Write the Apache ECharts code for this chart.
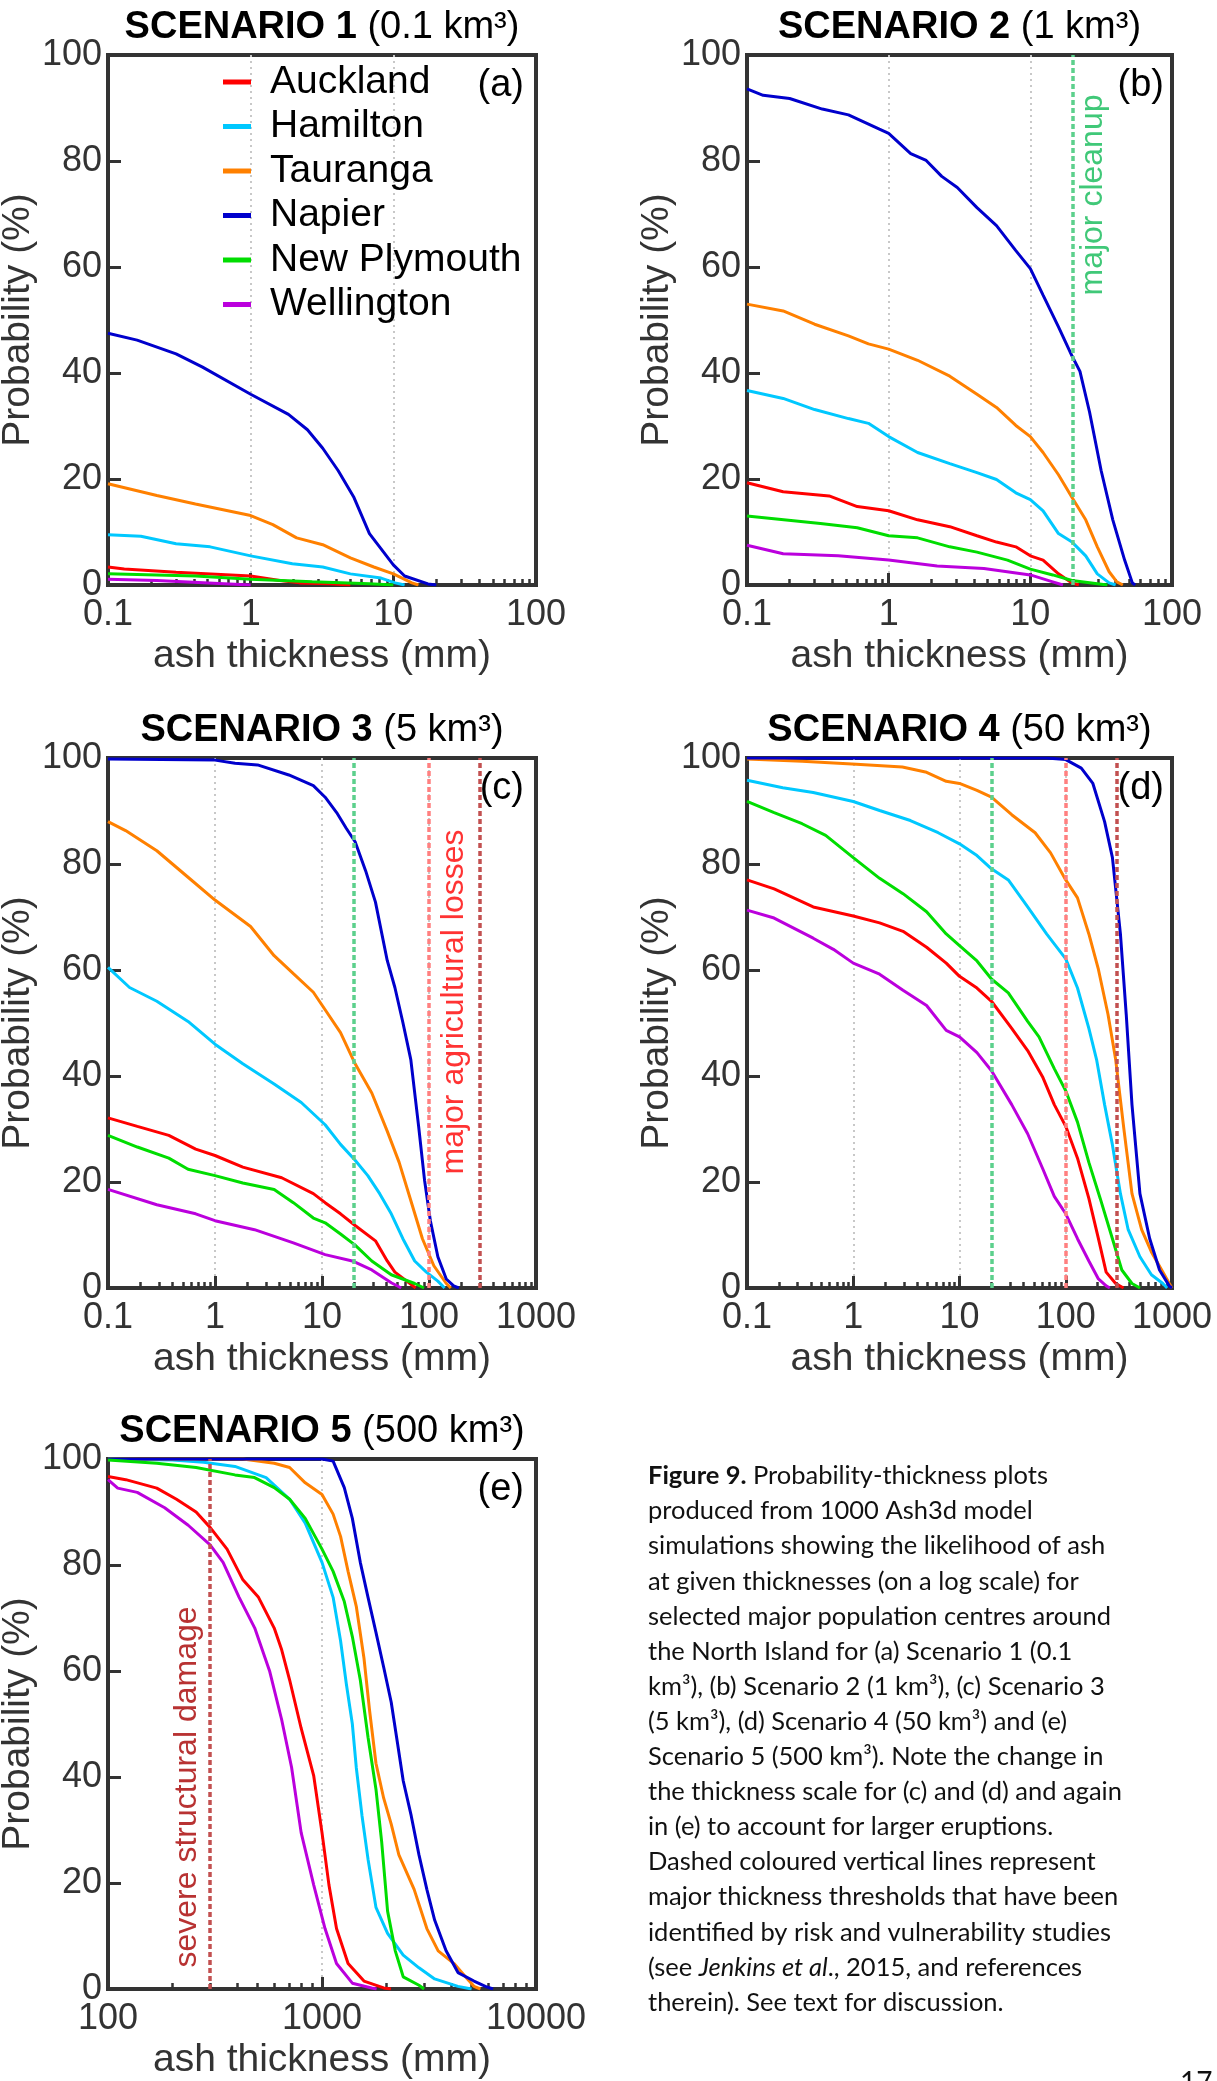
<!DOCTYPE html>
<html><head><meta charset="utf-8">
<script src="https://cdn.jsdelivr.net/npm/echarts@6/dist/echarts.min.js"></script>
<style>html,body{margin:0;padding:0;background:#fff}#c{width:1217px;height:2081px}</style>
</head><body><div id="c"></div>
<script>
// ---------- DATA (x = ash thickness mm, y = probability %) ----------
// Scenario 1 (0.1 km3)
const S1_AUCKLAND = [[0.1,3.4],[0.13,3.0],[0.3,2.4],[1,1.7],[1.6,0.85],[2.2,0.4],[3.6,0.25],[5,0]];
const S1_HAMILTON = [[0.1,9.5],[0.17,9.2],[0.3,7.8],[0.52,7.2],[1,5.5],[1.96,4.0],[3.2,3.4],[5,2.1],[8.2,1.3],[10.3,0.4],[12,0]];
const S1_TAURANGA = [[0.1,19.1],[0.22,16.9],[0.41,15.3],[1,13.1],[1.43,11.4],[2.1,8.9],[3.2,7.6],[5,5.1],[7.3,3.4],[10,2.1],[13.5,0.4],[15,0]];
const S1_NAPIER = [[0.1,47.5],[0.16,46.2],[0.3,43.6],[0.46,41.1],[1,36.0],[1.84,32.2],[2.5,29.3],[3.2,25.8],[4.1,21.6],[5.3,16.5],[6.8,9.7],[10,3.8],[12,1.7],[17.5,0.2],[20,0]];
const S1_NEWPLYMOUTH = [[0.1,2.1],[0.41,1.7],[1,1.1],[2.7,0.6],[6.8,0.25],[10,0]];
const S1_WELLINGTON = [[0.1,1.1],[0.22,0.85],[0.6,0.3],[1,0]];
// Scenario 2 (1 km3)
const S2_AUCKLAND = [[0.1,19.3],[0.18,17.6],[0.38,16.8],[0.6,14.8],[1,14.0],[1.6,12.3],[2.7,11.0],[4.2,9.3],[5.77,8.1],[7.9,7.2],[10,5.5],[12.3,4.7],[15.8,2.1],[19.7,0.4],[22,0]];
const S2_HAMILTON = [[0.1,36.7],[0.18,35.2],[0.3,33.1],[0.52,31.4],[0.72,30.5],[1,28.0],[1.6,25.0],[2.7,22.9],[4.2,21.2],[5.77,19.9],[7.9,17.4],[10,16.1],[12.3,14.0],[15.8,9.7],[19.7,8.1],[24.6,5.5],[29.7,2.1],[36,0.4],[40,0]];
const S2_TAURANGA = [[0.1,53.0],[0.18,51.7],[0.3,49.2],[0.52,47.0],[0.72,45.5],[1,44.5],[1.6,42.4],[2.7,39.4],[4.2,36.0],[5.77,33.5],[7.9,30.1],[10,28.0],[12.3,25.0],[15.8,20.8],[19.7,16.5],[24.6,12.3],[29.7,7.2],[36,2.5],[40.8,0.6],[45,0]];
const S2_NAPIER = [[0.1,93.6],[0.13,92.4],[0.2,91.8],[0.34,89.8],[0.52,88.7],[0.86,86.0],[1,85.2],[1.43,81.4],[1.84,80.1],[2.37,77.1],[3.05,75.0],[4.2,71.2],[5.77,67.8],[7.9,63.1],[10,59.7],[12.3,54.7],[15.8,48.7],[19.7,43.2],[22.4,40.3],[26.2,32.6],[31.6,21.6],[38.2,12.3],[46.3,4.7],[52.5,0.4],[55,0]];
const S2_NEWPLYMOUTH = [[0.1,13.0],[0.33,11.6],[0.6,10.8],[1,9.3],[1.6,8.9],[2.7,7.2],[4.2,6.2],[6.9,4.7],[10,3.0],[14.4,1.9],[19.7,0.85],[29.7,0.25],[35,0]];
const S2_WELLINGTON = [[0.1,7.5],[0.18,5.9],[0.44,5.5],[1,4.7],[2.2,3.6],[4.7,3.1],[10,1.9],[14.4,0.6],[17,0]];
// Scenario 3 (5 km3)
const S3_AUCKLAND = [[0.1,32.1],[0.188,30.5],[0.37,28.8],[0.66,26.2],[1,25.0],[1.82,22.8],[4.2,20.8],[8.3,17.8],[10.7,16.1],[14.9,14.0],[20.4,11.8],[31.6,8.9],[40.7,5.1],[48,3.0],[62,1.3],[75,0]];
const S3_HAMILTON = [[0.1,60.5],[0.159,56.7],[0.286,54.1],[0.56,50.3],[1,46.0],[1.82,42.3],[3.57,38.5],[6.4,35.0],[10.7,30.8],[14.9,27.1],[20.4,24.1],[26.8,21.2],[34.6,17.8],[44.4,14.0],[57,9.3],[73.5,5.1],[94.5,3.0],[121,1.3],[140,0]];
const S3_TAURANGA = [[0.1,88.0],[0.146,86.3],[0.286,82.5],[0.56,77.5],[1,73.2],[2.15,68.2],[3.57,62.7],[5.4,59.3],[8.3,55.8],[10.7,52.5],[14.9,48.2],[20.4,42.3],[29.2,36.8],[40.7,29.6],[52.6,23.7],[67.6,16.5],[86.8,9.3],[111,4.2],[145,0.85],[160,0]];
const S3_NAPIER = [[0.1,99.8],[1,99.6],[1.54,99.0],[2.5,98.7],[4.9,96.8],[8.3,94.8],[10.7,92.6],[13.7,89.7],[16.9,86.7],[20.4,84.2],[25.6,78.7],[31.6,72.8],[40.7,61.8],[48,56.7],[57,50.1],[67.6,43.1],[80,30.5],[90.9,20.3],[103,12.7],[121,5.9],[145,1.7],[170,0.4],[190,0]];
const S3_NEWPLYMOUTH = [[0.1,28.8],[0.188,26.6],[0.37,24.5],[0.56,22.4],[1,21.2],[1.82,19.8],[3.57,18.6],[5.4,16.1],[8.3,13.2],[10.7,12.3],[14.9,10.2],[20.4,8.1],[29.2,5.1],[44.4,2.5],[73.5,0.85],[90,0]];
const S3_WELLINGTON = [[0.1,18.6],[0.286,15.7],[0.66,14.0],[1,12.7],[2.34,11.0],[5.4,8.5],[10.7,6.3],[19.2,5.1],[29.2,3.4],[44.4,1.0],[55,0]];
// Scenario 4 (50 km3)
const S4_AUCKLAND = [[0.1,77.0],[0.18,75.3],[0.42,71.9],[1,70.2],[1.77,68.9],[2.94,67.3],[4.9,64.3],[7.5,61.3],[10,58.8],[14.6,56.6],[20,54.1],[31,49.0],[43.8,44.8],[61,39.7],[78,34.6],[100,30.5],[129,24.5],[165,16.9],[203,9.3],[240,3.0],[295,0.85],[350,0]];
const S4_HAMILTON = [[0.1,95.8],[0.217,94.4],[0.42,93.5],[1,91.8],[1.77,90.1],[3.45,88.2],[6.3,85.9],[10,83.8],[14.6,81.6],[20,79.1],[28.8,77.0],[43.8,71.9],[66,66.8],[100,62.1],[129,56.6],[165,49.0],[195,43.1],[232,34.6],[275,27.0],[327,17.8],[387,11.0],[499,5.9],[640,2.5],[820,0.85],[900,0]];
const S4_TAURANGA = [[0.1,99.8],[0.33,99.4],[1.07,98.8],[2.9,98.3],[4.9,97.3],[7.5,95.6],[10,95.2],[14.6,93.9],[20,92.6],[31,89.3],[51.5,85.9],[72,82.1],[100,77.0],[129,73.6],[165,66.8],[203,60.1],[250,51.6],[295,43.1],[350,30.5],[420,17.8],[518,11.0],[640,6.8],[820,3.0],[943,0.85],[1000,0]];
const S4_NAPIER = [[0.1,100],[66,100],[100,99.7],[140,98.1],[180,95.2],[232,88.0],[275,81.2],[327,66.8],[371,51.6],[420,34.6],[499,17.8],[617,9.3],[763,3.4],[943,0.4],[1000,0]];
const S4_NEWPLYMOUTH = [[0.1,91.8],[0.18,89.7],[0.33,87.6],[0.55,85.4],[1,81.2],[1.77,77.3],[2.94,74.4],[4.9,71.0],[7.5,66.8],[10,64.6],[14.6,61.7],[20,58.3],[28.8,55.7],[43.8,50.3],[56,47.4],[78,41.4],[100,37.2],[129,31.3],[165,23.7],[211,16.9],[275,9.3],[337,3.4],[420,0.85],[500,0]];
const S4_WELLINGTON = [[0.1,71.3],[0.18,69.8],[0.42,66.0],[0.65,63.9],[1,61.3],[1.77,59.2],[2.94,56.2],[4.9,53.3],[7.5,48.6],[10,47.4],[14.6,44.4],[20,41.0],[31,34.6],[43.8,29.1],[61,22.4],[78,17.3],[100,14.0],[129,9.3],[165,5.1],[203,1.7],[240,0.4],[260,0]];
// Scenario 5 (500 km3)
const S5_AUCKLAND = [[100,96.7],[121,96.1],[169,94.5],[209,92.4],[258,90.0],[300,87.1],[360,83.0],[427,77.2],[505,73.9],[598,68.1],[648,64.0],[706,58.3],[799,49.2],[915,40.2],[1000,29.5],[1078,19.6],[1169,11.4],[1324,4.8],[1571,1.5],[1942,0.2],[2100,0]];
const S5_HAMILTON = [[100,100],[200,99.8],[280,99.4],[392,98.6],[548,96.5],[706,92.4],[835,87.9],[1000,80.5],[1127,73.9],[1221,65.7],[1300,57.5],[1386,50.0],[1446,41.8],[1538,32.7],[1641,24.5],[1787,15.4],[2025,10.5],[2396,6.4],[2839,4.0],[3360,1.9],[4320,0.5],[5000,0]];
const S5_TAURANGA = [[100,100],[427,100],[598,99.2],[706,98.4],[835,95.5],[1000,93.3],[1127,89.6],[1221,85.4],[1324,78.8],[1446,72.2],[1571,62.4],[1669,52.5],[1787,42.6],[1942,36.0],[2106,31.1],[2287,25.3],[2695,18.8],[3090,11.4],[3490,7.2],[4140,4.8],[4680,2.3],[5130,0.5],[5500,0]];
const S5_NAPIER = [[100,100],[1000,100],[1127,99.6],[1271,94.6],[1386,88.8],[1510,80.5],[1641,73.9],[1787,67.3],[1942,60.7],[2106,54.1],[2247,46.7],[2396,39.3],[2611,32.7],[2839,25.3],[3090,18.8],[3360,13.0],[3800,7.2],[4320,3.1],[5130,1.5],[5800,0.5],[6300,0]];
const S5_NEWPLYMOUTH = [[100,99.8],[169,99.2],[258,98.4],[392,97.0],[484,96.5],[598,94.6],[706,92.4],[835,88.8],[1000,83.0],[1127,78.8],[1271,73.1],[1386,66.5],[1510,58.3],[1641,47.5],[1787,37.7],[1900,27.8],[2025,14.7],[2200,7.2],[2396,2.3],[2839,0.7],[3000,0]];
const S5_WELLINGTON = [[100,96.1],[111,94.5],[137,93.7],[184,90.8],[237,87.5],[300,83.8],[345,80.5],[410,73.9],[485,68.1],[570,59.9],[648,50.8],[721,41.8],[799,29.5],[915,19.6],[1033,11.4],[1169,4.8],[1386,1.1],[1705,0.2],[1800,0]];

const CITIES = ['Auckland','Hamilton','Tauranga','Napier','New Plymouth','Wellington'];
const TITLES_BOLD = ['SCENARIO 1','SCENARIO 2','SCENARIO 3','SCENARIO 4','SCENARIO 5'];
const TITLES_VOL = ['(0.1 km³)','(1 km³)','(5 km³)','(50 km³)','(500 km³)'];
const PANEL_LETTERS = ['(a)','(b)','(c)','(d)','(e)'];
const X_MIN = [0.1,0.1,0.1,0.1,100];
const X_MAX = [100,100,1000,1000,10000];
const Y_MIN = 0, Y_MAX = 100, Y_STEP = 20;
const THRESHOLDS = [[],[20],[20,100,300],[20,100,300],[300]];
const THRESHOLD_LABELS = [
  {panel:1, value:20, text:'major cleanup'},
  {panel:2, value:100, text:'major agricultural losses'},
  {panel:4, value:300, text:'severe structural damage'}
];
const CAPTION = [
  '{b|Figure 9.} Probability-thickness plots',
  'produced from 1000 Ash3d model',
  'simulations showing the likelihood of ash',
  'at given thicknesses (on a log scale) for',
  'selected major population centres around',
  'the North Island for (a) Scenario 1 (0.1',
  'km³), (b) Scenario 2 (1 km³), (c) Scenario 3',
  '(5 km³), (d) Scenario 4 (50 km³) and (e)',
  'Scenario 5 (500 km³). Note the change in',
  'the thickness scale for (c) and (d) and again',
  'in (e) to account for larger eruptions.',
  'Dashed coloured vertical lines represent',
  'major thickness thresholds that have been',
  'identified by risk and vulnerability studies',
  '(see {i|Jenkins et al}., 2015, and references',
  'therein). See text for discussion.'
];
const PAGE_NUMBER = '17';

const SCENARIOS = [
  [S1_AUCKLAND,S1_HAMILTON,S1_TAURANGA,S1_NAPIER,S1_NEWPLYMOUTH,S1_WELLINGTON],
  [S2_AUCKLAND,S2_HAMILTON,S2_TAURANGA,S2_NAPIER,S2_NEWPLYMOUTH,S2_WELLINGTON],
  [S3_AUCKLAND,S3_HAMILTON,S3_TAURANGA,S3_NAPIER,S3_NEWPLYMOUTH,S3_WELLINGTON],
  [S4_AUCKLAND,S4_HAMILTON,S4_TAURANGA,S4_NAPIER,S4_NEWPLYMOUTH,S4_WELLINGTON],
  [S5_AUCKLAND,S5_HAMILTON,S5_TAURANGA,S5_NAPIER,S5_NEWPLYMOUTH,S5_WELLINGTON]
];

// ---------- STYLE ----------
const FONT = '"Liberation Sans", Arial, Helvetica, sans-serif';
const CAP_FONT = 'Lato, "Open Sans", sans-serif';
const AX = '#333333';
const CITY_COLORS = ['#ff0000','#00c8ff','#ff8000','#0000cc','#00dd00','#bb00dd'];
const TH_COLORS = {20:'#5cd08c', 100:'#ff8080', 300:'#c25050'};
const TH_TEXT_COLORS = {20:'#40c878', 100:'#ff3333', 300:'#b83232'};
const GRIDS = [
  {left:108, top:55, width:428, height:530},
  {left:747, top:55, width:425, height:530},
  {left:108, top:758, width:428, height:530},
  {left:747, top:758, width:425, height:530},
  {left:108, top:1459, width:428, height:530}
];

const chart = echarts.init(document.getElementById('c'), null, {renderer:'canvas'});

const grid = GRIDS.map(g => Object.assign({show:true, borderColor:AX, borderWidth:4, backgroundColor:'transparent', containLabel:false, outerBoundsMode:'none'}, g));

const xAxis = GRIDS.map((g,i) => ({
  type:'log', logBase:10, gridIndex:i, min:X_MIN[i], max:X_MAX[i],
  name:'ash thickness (mm)', nameLocation:'middle', nameGap:52,
  nameTextStyle:{fontFamily:FONT, fontSize:39, color:AX},
  axisLine:{show:true, onZero:false, lineStyle:{color:AX, width:4}},
  axisTick:{show:true, inside:true, length:12, lineStyle:{color:AX, width:3}},
  minorTick:{show:true, splitNumber:9, length:6, lineStyle:{color:AX, width:2.5}},
  axisLabel:{show:true, margin:12, fontFamily:FONT, fontSize:36, color:AX, hideOverlap:false,
    showMinLabel:true, showMaxLabel:true, formatter:v => String(+(+v).toPrecision(6))},
  splitLine:{show:true, showMinLine:false, showMaxLine:false, lineStyle:{color:'#c8c8c8', width:2, type:[2,4]}},
  minorSplitLine:{show:false}
}));

const yAxis = GRIDS.map((g,i) => ({
  type:'value', gridIndex:i, min:Y_MIN, max:Y_MAX, interval:Y_STEP,
  name:'Probability (%)', nameLocation:'middle', nameGap:40, nameRotate:90,
  nameTextStyle:{fontFamily:FONT, fontSize:39, color:AX},
  axisLine:{show:true, lineStyle:{color:AX, width:4}},
  axisTick:{show:true, inside:true, length:13, lineStyle:{color:AX, width:3}},
  axisLabel:{show:true, margin:6, fontFamily:FONT, fontSize:36, color:AX},
  splitLine:{show:false}
}));

const series = [];
SCENARIOS.forEach((arrs, i) => {
  arrs.forEach((arr, k) => {
    series.push({
      type:'line', name:CITIES[k], xAxisIndex:i, yAxisIndex:i, data:arr,
      showSymbol:false, symbol:'none', silent:true, color:CITY_COLORS[k],
      lineStyle:{width:3, color:CITY_COLORS[k]}, z:3
    });
  });
  if (THRESHOLDS[i].length) {
    series.push({
      type:'line', name:'thr'+i, xAxisIndex:i, yAxisIndex:i, data:[], silent:true,
      markLine:{silent:true, symbol:['none','none'], label:{show:false}, z:5,
        data:THRESHOLDS[i].map(v => ({xAxis:v, lineStyle:{color:TH_COLORS[v], width:3.5, type:[5,3]}}))}
    });
  }
});

chart.setOption({
  animation:false, backgroundColor:'#fff',
  grid, xAxis, yAxis, series,
  legend:{data:CITIES, orient:'vertical', left:218, top:57, icon:'rect', itemWidth:28, itemHeight:5, itemGap:4.5,
    selectedMode:false, textStyle:{fontFamily:FONT, fontSize:39, color:'#000', lineHeight:40, padding:[0,0,0,14]}}
});

// ---------- annotations ----------
const graphic = [];
GRIDS.forEach((g,i) => {
  graphic.push({type:'text', x:g.left + g.width/2, y:g.top - 27, silent:true,
    style:{text:'{b|'+TITLES_BOLD[i]+'} {r|'+TITLES_VOL[i]+'}', align:'center', verticalAlign:'middle',
      fontFamily:FONT, fontSize:38, fill:'#000',
      rich:{b:{fontFamily:FONT, fontSize:38, fontWeight:'bold', fill:'#000'}, r:{fontFamily:FONT, fontSize:38, fill:'#000'}}}});
  const inset = (i===1||i===3) ? 8 : 12;
  graphic.push({type:'text', x:g.left + g.width - inset, y:g.top + 31, silent:true,
    style:{text:PANEL_LETTERS[i], align:'right', verticalAlign:'middle', fontFamily:FONT, fontSize:38, fill:'#000'}});
});
const TH_OFFSETS = {20:[20,140], 100:[25,244], 300:[-23,328]};
THRESHOLD_LABELS.forEach(t => {
  const g = GRIDS[t.panel];
  const px = chart.convertToPixel({gridIndex:t.panel}, [t.value, 50]);
  const off = TH_OFFSETS[t.value];
  graphic.push({type:'text', x:px[0] + off[0], y:g.top + off[1], rotation:Math.PI/2, silent:true,
    style:{text:t.text, align:'center', verticalAlign:'middle', fontFamily:FONT, fontSize:32, fill:TH_TEXT_COLORS[t.value]}});
});
// caption
const ctx = document.createElement('canvas').getContext('2d');
ctx.font = '100px Lato';
const wRef = ctx.measureText('the thickness scale for (c) and (d) and again').width;
const capSize = Math.min(30, 474 / wRef * 100);
CAPTION.forEach((line, k) => {
  graphic.push({type:'text', x:648, y:1476 + 35.1*k, silent:true,
    style:{text:line, align:'left', verticalAlign:'middle', fontFamily:CAP_FONT, fontSize:capSize, fill:'#111',
      rich:{b:{fontFamily:CAP_FONT, fontSize:capSize, fontWeight:'bold', fill:'#111'},
            i:{fontFamily:CAP_FONT, fontSize:capSize, fontStyle:'italic', fill:'#111'}}}});
});
graphic.push({type:'text', x:1180, y:2069, silent:true,
  style:{text:PAGE_NUMBER, align:'left', verticalAlign:'top', fontFamily:CAP_FONT, fontSize:28, fill:'#111'}});
chart.setOption({graphic});
</script></body></html>
